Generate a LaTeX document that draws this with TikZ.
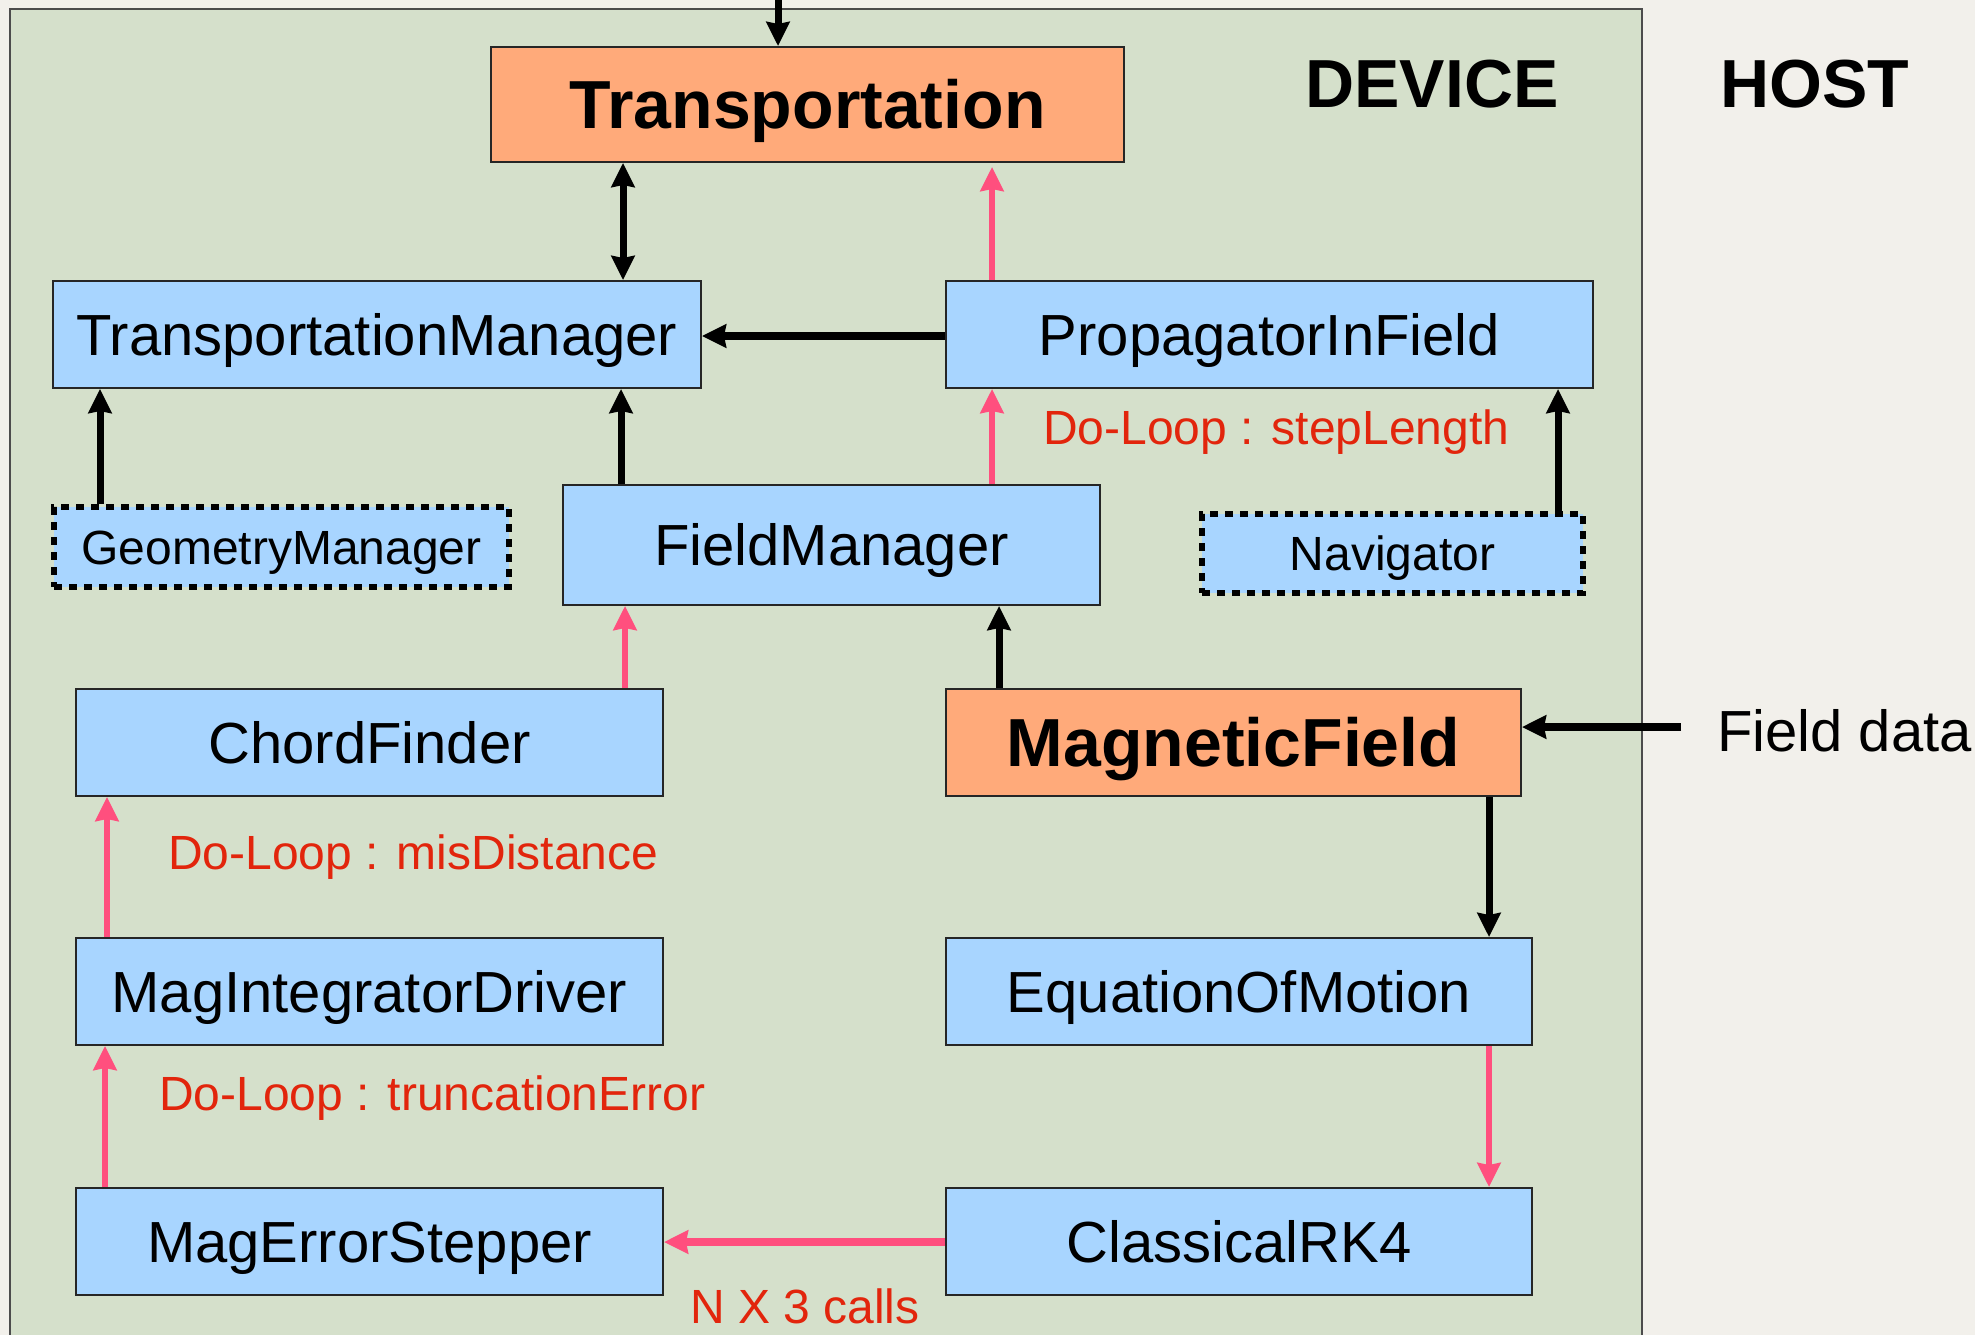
\documentclass[tikz,border=0pt]{standalone}
\usepackage{fontspec}
\setmainfont{Liberation Sans}
\usetikzlibrary{arrows.meta}
\definecolor{bgout}{HTML}{F2F0EB}
\definecolor{panel}{HTML}{D5E0CB}
\definecolor{boxblue}{HTML}{A8D5FF}
\definecolor{boxorange}{HTML}{FFAA7A}
\definecolor{pinkarrow}{HTML}{FF4F7E}
\definecolor{redtext}{HTML}{E2250C}
\begin{document}
\begin{tikzpicture}[x=1pt,y=-1pt,
 >={Stealth[length=24pt,width=23pt,inset=2pt]},
 every node/.style={inner sep=0pt, text depth=0pt},
 box/.style={draw=black!85, line width=2pt, fill=boxblue, font=\fontsize{58}{70}\selectfont, text height=41.5pt},
 obox/.style={box, fill=boxorange, font=\fontsize{68}{80}\selectfont\bfseries, text height=48.7pt},
 dbox/.style={box, draw=black, line width=6pt, dash pattern=on 8pt off 7pt, font=\fontsize{48}{58}\selectfont, text height=34.4pt},
 lbl/.style={text=redtext, font=\fontsize{48}{58}\selectfont, text height=34.4pt, anchor=west},
 plain/.style={font=\fontsize{58}{70}\selectfont, text height=41.5pt},
 hdr/.style={font=\fontsize{68}{80}\selectfont\bfseries, text height=48.7pt},
 blk/.style={draw=black, line width=7pt, ->},
 pnk/.style={draw=pinkarrow, line width=6pt, ->},
]
\useasboundingbox (0,0) rectangle (1975,1335);
\fill[bgout] (0,0) rectangle (1975,1335);
\filldraw[fill=panel, draw=black!70, line width=2pt] (10,9) rectangle (1642,1350);

% nodes
\node[obox, minimum width=633pt, minimum height=115pt] (trans) at (807.5,104.5) {Transportation};
\node[box, minimum width=648pt, minimum height=107pt] (tm) at (377,334.5) {TransportationManager};
\node[box, minimum width=647pt, minimum height=107pt] (pif) at (1269.5,334.5) {PropagatorInField};
\node[dbox, minimum width=455pt, minimum height=80pt] (gm) at (281.5,547) {GeometryManager};
\node[box, minimum width=537pt, minimum height=120pt] (fm) at (831.5,545) {FieldManager};
\node[dbox, minimum width=381pt, minimum height=79pt] (nav) at (1392.5,553.5) {Navigator};
\node[box, minimum width=587pt, minimum height=107pt] (cf) at (369.5,742.5) {ChordFinder};
\node[obox, minimum width=575pt, minimum height=107pt] (mf) at (1233.5,742.5) {MagneticField};
\node[box, minimum width=587pt, minimum height=107pt] (mid) at (369.5,991.5) {MagIntegratorDriver};
\node[box, minimum width=586pt, minimum height=107pt] (eom) at (1239,991.5) {EquationOfMotion};
\node[box, minimum width=587pt, minimum height=107pt] (mes) at (369.5,1241.5) {MagErrorStepper};
\node[box, minimum width=586pt, minimum height=107pt] (crk) at (1239,1241.5) {ClassicalRK4};

\node[hdr] (device) at (1432,83) {DEVICE};
\node[hdr] (host) at (1815,83) {HOST};
\node[plain, anchor=west] (fdata) at (1717,731) {Field data};

\node[lbl] (l1) at (1043,427) {Do-Loop : stepLength};
\node[lbl] (l2) at (168,852) {Do-Loop : misDistance};
\node[lbl] (l3) at (159,1093) {Do-Loop : truncationError};
\node[lbl, anchor=center] (l4) at (805,1306) {N X 3 calls};

\coordinate (topin) at (778,0);
\coordinate (fdin) at (1681,727);

% connectors
\draw[blk] (topin) -- (topin |- trans.north);
\draw[blk, <->] (623,0 |- trans.south) -- (623,0 |- tm.north);
\draw[pnk, shorten >=4pt] (992,0 |- pif.north) -- (992,0 |- trans.south);
\draw[blk, line width=7.5pt] (pif.west |- 0,336) -- (tm.east |- 0,336);
\draw[blk] (100,0 |- gm.north) -- (100,0 |- tm.south);
\draw[blk] (621,0 |- fm.north) -- (621,0 |- tm.south);
\draw[pnk] (992,0 |- fm.north) -- (992,0 |- pif.south);
\draw[blk] (1558,0 |- nav.north) -- (1558,0 |- pif.south);
\draw[pnk] (625,0 |- cf.north) -- (625,0 |- fm.south);
\draw[blk] (999,0 |- mf.north) -- (999,0 |- fm.south);
\draw[blk, line width=8pt] (fdin) -- (mf.east |- fdin);
\draw[pnk] (107,0 |- mid.north) -- (107,0 |- cf.south);
\draw[pnk] (105,0 |- mes.north) -- (105,0 |- mid.south);
\draw[blk] (1489,0 |- mf.south) -- (1489,0 |- eom.north);
\draw[pnk] (1489,0 |- eom.south) -- (1489,0 |- crk.north);
\draw[pnk, line width=7.5pt] (crk.west |- 0,1242) -- (mes.east |- 0,1242);
\end{tikzpicture}
\end{document}
